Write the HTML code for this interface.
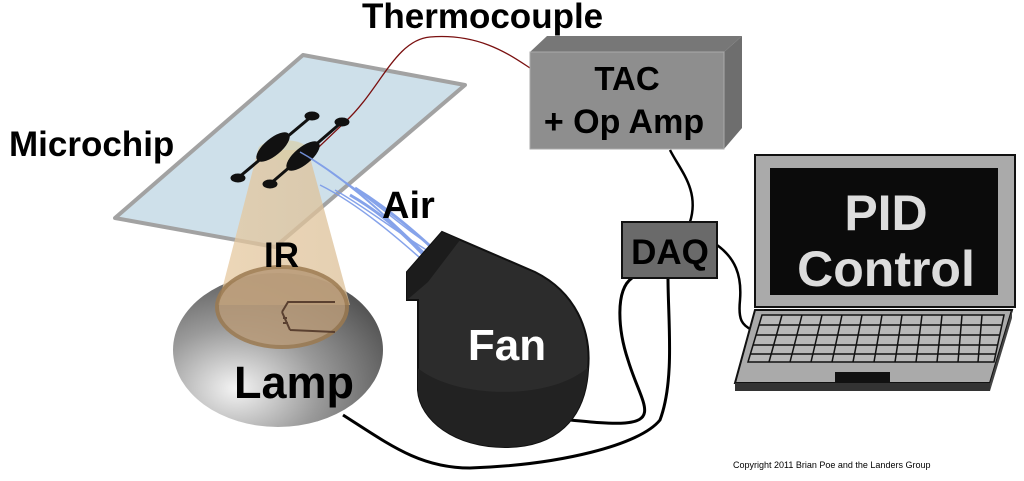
<!DOCTYPE html>
<html><head><meta charset="utf-8"><style>
html,body{margin:0;padding:0;background:#fff;}
svg{display:block;}
text{font-family:"Liberation Sans",sans-serif;font-weight:bold;}
</style></head><body>
<svg width="1024" height="481" viewBox="0 0 1024 481" xmlns="http://www.w3.org/2000/svg">
<defs>
<radialGradient id="lg" cx="0.3" cy="0.75" r="0.8">
<stop offset="0" stop-color="#f4f4f4"/><stop offset="0.5" stop-color="#9a9a9a"/><stop offset="1" stop-color="#555"/>
</radialGradient>
<linearGradient id="ir" x1="0" x2="1"><stop offset="0" stop-color="#e6c9a0"/><stop offset="1" stop-color="#dcc098"/></linearGradient>
<clipPath id="fc"><path d="M407,272 L442,232 L535,272 C575,292 592,330 588,370 C585,420 555,447 505,447 C455,447 420,420 418,390 L418,300 L407,300 Z"/></clipPath>
</defs>
<!-- wires -->
<path d="M343,415 C390,445 420,468 470,468 C560,465 640,445 660,420 C675,380 668,320 668,278" fill="none" stroke="#000" stroke-width="3"/>
<path d="M632,278 C615,290 618,330 628,360 C640,400 660,420 625,423 C610,424 590,422 570,420" fill="none" stroke="#000" stroke-width="3"/>
<path d="M670,150 C680,170 700,190 690,222" fill="none" stroke="#000" stroke-width="2.5"/>
<path d="M717,245 C735,258 742,275 740,300 C738,320 742,325 752,330" fill="none" stroke="#000" stroke-width="2.5"/>
<!-- lamp -->
<ellipse cx="278" cy="350" rx="105" ry="77" fill="url(#lg)"/>
<!-- chip glass -->
<polygon points="303,55 465,85 275,247 115,218" fill="#c9dde8" stroke="#999" stroke-width="4" stroke-linejoin="round" opacity="0.9"/>
<!-- IR cone -->
<polygon points="258,150 308,150 350,305 218,305" fill="url(#ir)" opacity="0.75"/>
<ellipse cx="283" cy="150" rx="25" ry="10" fill="#d8cfa8" opacity="0.7"/>
<ellipse cx="282" cy="307" rx="65" ry="40" fill="#b89a78" stroke="#9c7a50" stroke-width="4" opacity="0.85"/>
<path d="M335,302 L288,302 L282,312 M290,330 L335,332 M282,312 L290,330 M283,318 L287,318 M283,323 L288,323" stroke="#5a4030" stroke-width="2" fill="none"/>
<!-- thermocouple wire -->
<path d="M300,165 L345,122 C380,90 395,40 430,37 C480,33 510,55 530,68" fill="none" stroke="#7a1010" stroke-width="1.3"/>
<!-- channels -->
<g fill="#111" stroke="#111">
<line x1="312" y1="116" x2="238" y2="178" stroke-width="3"/>
<line x1="342" y1="122" x2="270" y2="184" stroke-width="3"/>
<ellipse cx="273" cy="147" rx="20" ry="8" transform="rotate(-40 273 147)"/>
<ellipse cx="303" cy="156" rx="20" ry="8" transform="rotate(-40 303 156)"/>
<ellipse cx="312" cy="116" rx="7" ry="4"/>
<ellipse cx="342" cy="122" rx="7" ry="4"/>
<ellipse cx="238" cy="178" rx="7" ry="4"/>
<ellipse cx="270" cy="184" rx="7" ry="4"/>
</g>
<!-- air -->
<g fill="none" stroke="#7a9ae8" stroke-width="1.5" opacity="0.9">
<path d="M300,152 C350,180 390,220 430,258"/>
<path d="M310,158 C360,190 395,225 432,262"/>
<path d="M320,185 C360,205 400,240 428,265"/>
<path d="M335,190 C370,210 400,235 435,255"/>
<path d="M345,182 C380,205 405,230 438,250"/>
<path d="M350,195 C385,215 410,240 430,262" stroke-width="3"/>
<path d="M355,188 C390,210 415,232 440,255" stroke-width="3"/>
</g>
<!-- fan -->
<path d="M407,272 L442,232 L535,272 C575,292 592,330 588,370 C585,420 555,447 505,447 C455,447 420,420 418,390 L418,300 L407,300 Z" fill="#2c2c2c" stroke="#111" stroke-width="2"/>
<path d="M407,272 L442,232 L460,240 L428,282 L407,300 Z" fill="#1c1c1c"/>
<path clip-path="url(#fc)" d="M410,360 C440,400 560,405 595,360 L595,460 L410,460 Z" fill="#222"/>
<text x="507" y="360" font-size="44" fill="#fff" text-anchor="middle">Fan</text>
<!-- TAC box -->
<polygon points="530,52 547,36 742,36 724,52" fill="#777"/>
<polygon points="724,52 742,36 742,128 724,149" fill="#6e6e6e"/>
<rect x="530" y="52" width="194" height="97" fill="#8e8e8e" stroke="#aaa"/>
<text x="627" y="90" font-size="33" text-anchor="middle">TAC</text>
<text x="624" y="133" font-size="34" text-anchor="middle">+ Op Amp</text>
<!-- DAQ -->
<rect x="622" y="222" width="95" height="56" fill="#6a6a6a" stroke="#111" stroke-width="2"/>
<text x="670" y="264" font-size="35" text-anchor="middle">DAQ</text>
<!-- laptop -->
<rect x="755" y="155" width="260" height="152" fill="#aaa" stroke="#111" stroke-width="2"/>
<rect x="770" y="168" width="228" height="127" fill="#0b0b0b"/>
<text x="886" y="230" font-size="50" fill="#ddd" text-anchor="middle">PID</text>
<text x="886" y="286" font-size="50" fill="#ddd" text-anchor="middle">Control</text>
<polygon points="735,383 755,310 1012,310 990,383" fill="#aaa" stroke="#111" stroke-width="2"/>
<polygon points="735,383 990,383 990,391 735,391" fill="#333"/>
<polygon points="990,383 1012,310 1012,318 990,391" fill="#444"/>
<g stroke="#111" stroke-width="1.5" fill="none">
<polygon points="748,362 762,315 1004,315 994,362" fill="#b8b8b8"/>
<line x1="759" y1="325" x2="1001" y2="325"/>
<line x1="756" y1="335" x2="999" y2="335"/>
<line x1="753" y1="345" x2="997" y2="345"/>
<line x1="751" y1="354" x2="995" y2="354"/>
<line x1="782" y1="315" x2="769" y2="362"/><line x1="802" y1="315" x2="790" y2="362"/><line x1="822" y1="315" x2="811" y2="362"/><line x1="842" y1="315" x2="832" y2="362"/><line x1="862" y1="315" x2="853" y2="362"/><line x1="882" y1="315" x2="874" y2="362"/><line x1="902" y1="315" x2="895" y2="362"/><line x1="922" y1="315" x2="916" y2="362"/><line x1="942" y1="315" x2="937" y2="362"/><line x1="962" y1="315" x2="958" y2="362"/><line x1="982" y1="315" x2="978" y2="362"/>
</g>
<rect x="835" y="372" width="55" height="10" fill="#111"/>
<!-- labels -->
<text x="362" y="28" font-size="35">Thermocouple</text>
<text x="9" y="156" font-size="35">Microchip</text>
<text x="264" y="267" font-size="35">IR</text>
<text x="382" y="218" font-size="38">Air</text>
<text x="234" y="398" font-size="45">Lamp</text>
<text x="733" y="468" font-size="9" style="font-weight:normal">Copyright 2011 Brian Poe and the Landers Group</text>
</svg>
</body></html>
